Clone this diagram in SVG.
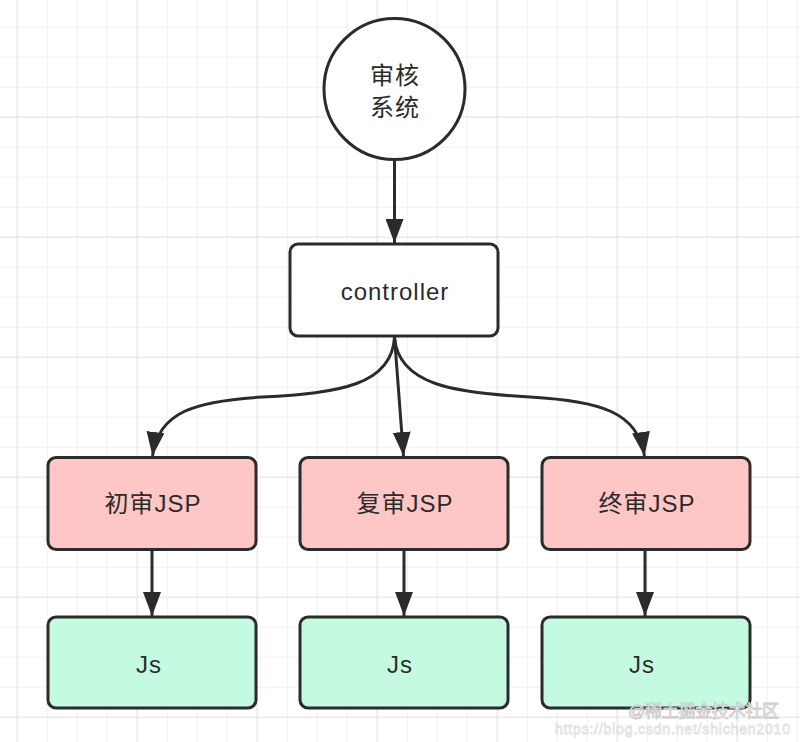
<svg xmlns="http://www.w3.org/2000/svg" width="800" height="742" viewBox="0 0 800 742">
<defs>
<pattern id="minor" x="16.7" y="26.7" width="30" height="30" patternUnits="userSpaceOnUse">
<path d="M0,0 H30 M0,0 V30" fill="none" stroke="#ebebeb" stroke-width="1.5"/>
</pattern>
<pattern id="major" x="16.7" y="-3.3" width="120" height="120" patternUnits="userSpaceOnUse">
<path d="M0,0 H120 M0,0 V120" fill="none" stroke="#e0e0e0" stroke-width="1.5"/>
</pattern>
<marker id="ah" viewBox="0 0 24 18" refX="24" refY="9" markerWidth="24" markerHeight="18" markerUnits="userSpaceOnUse" orient="auto">
<path d="M0,0 L24,9 L0,18 Z" fill="#2b2b2b"/>
</marker>
</defs>
<style>
.box{stroke:#2b2b2b;stroke-width:3}
.edge{fill:none;stroke:#2b2b2b;stroke-width:3;marker-end:url(#ah)}
.t{font-family:"Liberation Sans","Noto Sans CJK SC",sans-serif;font-size:24px;letter-spacing:1px;fill:#2b2b2b;text-anchor:middle}
.wm{font-family:"Liberation Sans","Noto Sans CJK SC",sans-serif;text-anchor:start;fill:#ffffff;stroke:#c8c8c8;stroke-width:0.8}
</style>
<rect width="800" height="742" fill="#ffffff"/>
<rect width="800" height="742" fill="url(#minor)"/>
<rect width="800" height="742" fill="url(#major)"/>

<g id="connectors">
<path class="edge" d="M394.5,160 L394.5,243"/>
<path class="edge" d="M394.5,337 C392,385 340,393 262,397 C195,401 158,412 152.5,456"/>
<path class="edge" d="M394.5,337 L403.5,456"/>
<path class="edge" d="M394.5,337 C398,385 455,393 530,397 C600,401 638,412 644.5,456"/>
<path class="edge" d="M152,550 L152,616"/>
<path class="edge" d="M404,550 L404,616"/>
<path class="edge" d="M645,550 L645,616"/>
</g>

<g id="node-audit">
<circle class="box" cx="394.5" cy="89" r="70.5" fill="#ffffff"/>
<text class="t" x="395" y="84">审核</text>
<text class="t" x="395" y="116">系统</text>
</g>
<g id="node-controller">
<rect class="box" x="290" y="244" width="208" height="92" rx="8" fill="#ffffff"/>
<text class="t" x="395" y="300">controller</text>
</g>
<g id="node-jsp1">
<rect class="box" x="48" y="457.5" width="208" height="92" rx="8" fill="#ffc6c6"/>
<text class="t" x="153" y="512">初审JSP</text>
</g>
<g id="node-jsp2">
<rect class="box" x="300" y="457.5" width="208" height="92" rx="8" fill="#ffc6c6"/>
<text class="t" x="405" y="512">复审JSP</text>
</g>
<g id="node-jsp3">
<rect class="box" x="542" y="457.5" width="208" height="92" rx="8" fill="#ffc6c6"/>
<text class="t" x="647" y="512">终审JSP</text>
</g>
<g id="node-js1">
<rect class="box" x="48" y="617" width="208" height="91" rx="8" fill="#c4fbe0"/>
<text class="t" x="149" y="673">Js</text>
</g>
<g id="node-js2">
<rect class="box" x="300" y="617" width="208" height="91" rx="8" fill="#c4fbe0"/>
<text class="t" x="400" y="673">Js</text>
</g>
<g id="node-js3">
<rect class="box" x="542" y="617" width="208" height="91" rx="8" fill="#c4fbe0"/>
<text class="t" x="642" y="673">Js</text>
</g>

<text class="wm" x="628" y="717" font-size="17" textLength="151">@稀土掘金技术社区</text>
<text class="wm" x="555" y="734" font-size="14" textLength="235" fill-opacity="0.6" stroke-opacity="0.6">https://blog.csdn.net/shichen2010</text>
</svg>
